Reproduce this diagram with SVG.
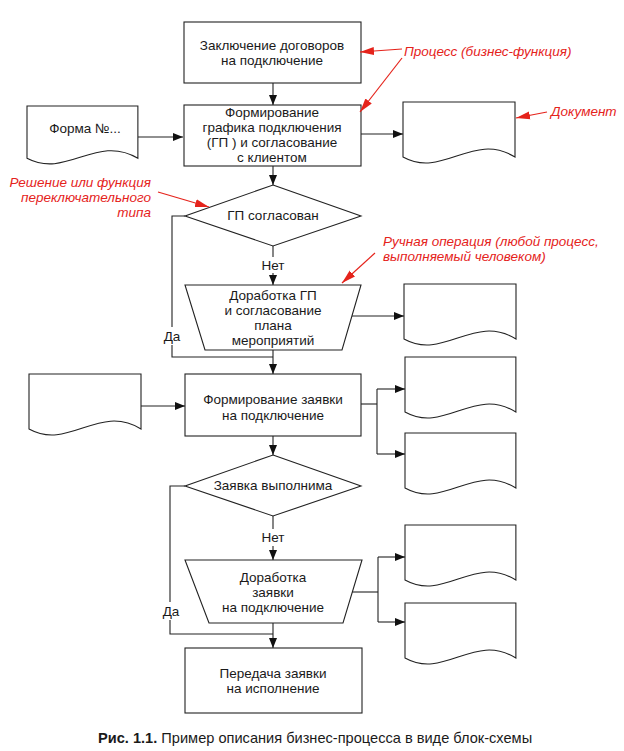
<svg xmlns="http://www.w3.org/2000/svg" width="624" height="751" viewBox="0 0 624 751">
<defs>
<marker id="ah" markerUnits="userSpaceOnUse" markerWidth="10" markerHeight="10" viewBox="0 0 10 10" refX="10" refY="5" orient="auto"><path d="M0,1 L10,5 L0,9 Z" fill="#111"/></marker>
<marker id="rh" markerUnits="userSpaceOnUse" markerWidth="14" markerHeight="10" viewBox="0 0 14 10" refX="14" refY="5" orient="auto"><path d="M0,1 L14,5 L0,9 Z" fill="#e5231b"/></marker>
<path id="doc" d="M0,0 H112 V55 C70,29 40,77 0,55 Z"/>
<style>
.s{fill:#fff;stroke:#222;stroke-width:1.1}
.c{fill:none;stroke:#222;stroke-width:1.1}
.t{font-family:"Liberation Sans",Arial,sans-serif;font-size:13.5px;fill:#1a1a1a;text-anchor:middle}
.r{font-family:"Liberation Sans",Arial,sans-serif;font-size:13.5px;font-style:italic;fill:#e5231b}
.ra{fill:none;stroke:#e5231b;stroke-width:1.2}
.cap{font-family:"Liberation Sans",Arial,sans-serif;font-size:14.6px;fill:#1a1a1a}
</style>
</defs>
<rect width="624" height="751" fill="#fff"/>

<g id="connectors">
<path class="c" d="M273,83 V105" marker-end="url(#ah)"/>
<path class="c" d="M138,137 H183" marker-end="url(#ah)"/>
<path class="c" d="M360,134 H403" marker-end="url(#ah)"/>
<path class="c" d="M273,166 V185" marker-end="url(#ah)"/>
<path class="c" d="M273,246 V257"/>
<path class="c" d="M273,273 V285" marker-end="url(#ah)"/>
<path class="c" d="M352,316 H404" marker-end="url(#ah)"/>
<path class="c" d="M185,216 H172 V327"/>
<path class="c" d="M172,345 V357 H273"/>
<path class="c" d="M273,350 V374" marker-end="url(#ah)"/>
<path class="c" d="M141,406 H185" marker-end="url(#ah)"/>
<path class="c" d="M361,404 H377"/>
<path class="c" d="M377,389 V454"/>
<path class="c" d="M377,389 H405" marker-end="url(#ah)"/>
<path class="c" d="M377,454 H405" marker-end="url(#ah)"/>
<path class="c" d="M273,436 V455" marker-end="url(#ah)"/>
<path class="c" d="M273,516 V529"/>
<path class="c" d="M273,546 V560" marker-end="url(#ah)"/>
<path class="c" d="M352,592 H378"/>
<path class="c" d="M378,557 V622"/>
<path class="c" d="M378,557 H405" marker-end="url(#ah)"/>
<path class="c" d="M378,622 H405" marker-end="url(#ah)"/>
<path class="c" d="M185,486 H170 V602"/>
<path class="c" d="M170,620 V634 H273"/>
<path class="c" d="M273,623 V648" marker-end="url(#ah)"/>
</g>

<g id="n1"><rect class="s" x="184" y="22" width="177" height="61"/>
<text class="t" x="272" y="50">Заключение договоров</text><text class="t" x="272" y="65">на подключение</text></g>

<g id="n2"><rect class="s" x="184" y="105" width="177" height="61"/>
<text class="t" x="272" y="117">Формирование</text><text class="t" x="272" y="132">графика подключения</text><text class="t" x="272" y="147">(ГП ) и согласование</text><text class="t" x="272" y="162">с клиентом</text></g>

<g id="docForm"><use href="#doc" class="s" transform="translate(27,106) scale(0.99,0.95)"/>
<text class="t" x="85" y="133">Форма №...</text></g>

<g id="doc1"><use href="#doc" class="s" transform="translate(403,102)"/></g>

<g id="d1"><path class="s" d="M273,185 L361,216 L273,246 L185,216 Z"/>
<text class="t" x="273" y="220">ГП согласован</text></g>
<text class="t" x="273" y="270">Нет</text>
<text class="t" x="172" y="341">Да</text>

<g id="m1"><path class="s" d="M185,285 H361 L342,350 H205 Z"/>
<text class="t" x="273" y="300">Доработка ГП</text><text class="t" x="273" y="315">и согласование</text><text class="t" x="273" y="330">плана</text><text class="t" x="273" y="345">мероприятий</text></g>

<g id="doc2"><use href="#doc" class="s" transform="translate(404,284)"/></g>

<g id="n3"><rect class="s" x="185" y="374" width="176" height="62"/>
<text class="t" x="273" y="404">Формирование заявки</text><text class="t" x="273" y="420">на подключение</text></g>

<g id="docLeft3"><use href="#doc" class="s" transform="translate(29,374)"/></g>
<g id="doc3"><use href="#doc" class="s" transform="translate(405,357) scale(0.99,1)"/></g>
<g id="doc4"><use href="#doc" class="s" transform="translate(405,433) scale(0.99,1)"/></g>

<g id="d2"><path class="s" d="M273,455 L361,486 L273,516 L185,486 Z"/>
<text class="t" x="273" y="490">Заявка выполнима</text></g>
<text class="t" x="273" y="542">Нет</text>
<text class="t" x="171" y="616">Да</text>

<g id="m2"><path class="s" d="M185,560 H362 L343,623 H209 Z"/>
<text class="t" x="273" y="582">Доработка</text><text class="t" x="273" y="597">заявки</text><text class="t" x="273" y="612">на подключение</text></g>

<g id="doc5"><use href="#doc" class="s" transform="translate(405,525) scale(0.99,1)"/></g>
<g id="doc6"><use href="#doc" class="s" transform="translate(405,603) scale(0.99,1)"/></g>

<g id="n4"><rect class="s" x="185" y="648" width="177" height="65"/>
<text class="t" x="273" y="678">Передача заявки</text><text class="t" x="273" y="693">на исполнение</text></g>

<g id="annotations">
<text class="r" x="404" y="56">Процесс (бизнес-функция)</text>
<path class="ra" d="M402,49 L360,52" marker-end="url(#rh)"/>
<path class="ra" d="M402,58 L360,112" marker-end="url(#rh)"/>
<text class="r" x="551" y="116">Документ</text>
<path class="ra" d="M547,112 L516,118" marker-end="url(#rh)"/>
<text class="r" x="151" y="187" text-anchor="end">Решение или функция</text>
<text class="r" x="151" y="202" text-anchor="end">переключательного</text>
<text class="r" x="151" y="217" text-anchor="end">типа</text>
<path class="ra" d="M158,192 L209,207" marker-end="url(#rh)"/>
<text class="r" x="383" y="246">Ручная операция (любой процесс,</text>
<text class="r" x="383" y="261">выполняемый человеком)</text>
<path class="ra" d="M375,253 L342,283" marker-end="url(#rh)"/>
</g>

<text class="cap" x="98" y="743"><tspan font-weight="bold">Рис. 1.1.</tspan> Пример описания бизнес-процесса в виде блок-схемы</text>
</svg>
